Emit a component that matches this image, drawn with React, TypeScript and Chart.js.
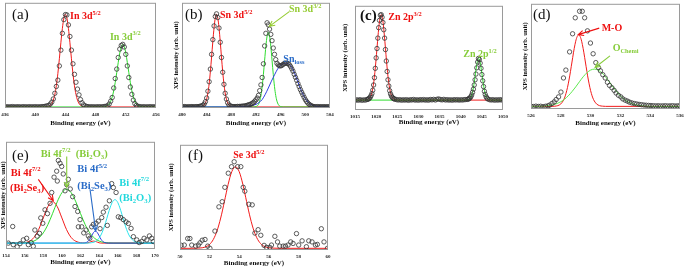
import React, { useEffect, useRef } from "react";
import { Chart, registerables } from "chart.js";

Chart.register(...registerables);

type Pt = [number, number];
const SERIF = "'Liberation Serif', 'Times New Roman', serif";

// ---------------- (a) In 3d ----------------
const aTicks = [436, 440, 444, 448, 452, 456];
const aData: Pt[] = [
  [436.0, 1.0], [436.2, 1.2], [436.4, 0.9], [436.6, 1.1], [436.8, 1.0], [437.0, 1.3], [437.2, 0.9], [437.4, 1.1], [437.6, 1.0], [437.8, 1.2],
  [438.0, 0.9], [438.2, 1.0], [438.4, 1.2], [438.6, 1.0], [438.8, 1.1], [439.0, 0.9], [439.2, 1.2], [439.4, 1.0], [439.6, 1.1], [439.8, 1.0],
  [440.0, 1.2], [440.2, 1.0], [440.4, 1.1], [440.6, 1.0], [440.8, 1.2], [441.0, 1.3], [441.2, 1.4], [441.4, 1.7], [441.6, 2.1],
  [441.8, 2.4], [442.0, 3.8], [442.2, 5.6], [442.4, 8.6], [442.6, 14], [442.8, 20.5], [443.0, 26.5], [443.2, 40], [443.4, 55], [443.6, 71],
  [443.8, 84], [444.0, 88.8], [444.2, 88.5], [444.4, 79], [444.6, 68], [444.8, 55], [445.0, 42], [445.2, 32], [445.4, 24.5], [445.6, 18],
  [445.8, 12.5], [446.0, 8], [446.2, 5], [446.4, 3], [446.6, 2], [446.8, 1.5], [447.0, 1.2],
  [447.2, 1.1], [447.4, 1.0], [447.6, 1.2], [447.8, 0.9], [448.0, 1.1], [448.2, 1.0], [448.4, 1.2], [448.6, 1.0], [448.8, 1.1], [449.0, 1.2],
  [449.2, 1.4], [449.4, 1.7], [449.6, 2.1], [449.8, 3.8], [450.0, 6.5], [450.2, 10], [450.4, 19], [450.6, 28], [450.8, 37], [451.0, 48],
  [451.2, 56], [451.4, 59.5], [451.6, 60.5], [451.8, 58], [452.0, 51], [452.2, 40], [452.4, 29], [452.6, 20], [452.8, 13], [453.0, 7.5],
  [453.2, 4.2], [453.4, 2.5], [453.6, 1.6], [453.8, 1.3], [454.0, 1.1], [454.2, 1.0], [454.4, 1.2], [454.6, 0.9], [454.8, 1.1], [455.0, 1.0],
  [455.2, 1.2], [455.4, 1.0], [455.6, 1.1], [455.8, 1.0], [456.0, 1.1],
];
const aRed: Pt[] = [
  [436, 1], [441.2, 1], [441.6, 1.2], [441.8, 1.6], [442.0, 2.5], [442.2, 4.2], [442.4, 7.5], [442.6, 12.9], [442.8, 21.2], [443.0, 32.7],
  [443.2, 46.8], [443.4, 62], [443.6, 75.7], [443.8, 85.5], [444.0, 89], [444.2, 85.5], [444.4, 75.7], [444.6, 62], [444.8, 46.8], [445.0, 32.7],
  [445.2, 21.2], [445.4, 12.9], [445.6, 7.5], [445.8, 4.2], [446.0, 2.5], [446.2, 1.6], [446.4, 1.2], [446.8, 1], [456, 1],
];
const aGreen: Pt[] = [
  [436, 1], [448.8, 1], [449.2, 1.2], [449.4, 1.6], [449.6, 2.4], [449.8, 3.9], [450.0, 6.4], [450.2, 10.5], [450.4, 16.4], [450.6, 24.3],
  [450.8, 33.7], [451.0, 43.4], [451.2, 52.2], [451.4, 58.3], [451.6, 60.5], [451.8, 58.3], [452.0, 52.2], [452.2, 43.4], [452.4, 33.7],
  [452.6, 24.3], [452.8, 16.4], [453.0, 10.5], [453.2, 6.4], [453.4, 3.9], [453.6, 2.4], [453.8, 1.6], [454.0, 1.2], [454.4, 1], [456, 1],
];

// ---------------- (b) Sn 3d ----------------
const bTicks = [480, 484, 488, 492, 496, 500, 504];
const bData: Pt[] = [
  [480.0, 1.2], [480.2, 1.0], [480.4, 1.3], [480.6, 1.1], [480.8, 0.9], [481.0, 1.2], [481.2, 1.0], [481.4, 1.1], [481.6, 1.3], [481.8, 1.0],
  [482.0, 1.2], [482.2, 1.1], [482.4, 1.3], [482.6, 1.2], [482.8, 1.5], [483.0, 1.7], [483.2, 2.0], [483.4, 2.6], [483.6, 3.8], [483.8, 6],
  [484.0, 9.5], [484.2, 16], [484.4, 25], [484.6, 37], [484.8, 51], [485.0, 65], [485.2, 78], [485.4, 87], [485.6, 89.5], [485.8, 86],
  [486.0, 76], [486.2, 62.5], [486.4, 48], [486.6, 34], [486.8, 22.5], [487.0, 14], [487.2, 8.5], [487.4, 5], [487.6, 3], [487.8, 2],
  [488.0, 1.6], [488.2, 1.3], [488.4, 1.2], [488.6, 1.4], [488.8, 1.2], [489.0, 1.5], [489.2, 1.3], [489.4, 1.6], [489.6, 1.5], [489.8, 1.8],
  [490.0, 1.7], [490.2, 2.0], [490.4, 2.2], [490.6, 2.6], [490.8, 3.0], [491.0, 3.3], [491.2, 3.8], [491.4, 4.5], [491.6, 5.3], [491.8, 6.5],
  [492.0, 7.8], [492.2, 9.5], [492.4, 12], [492.6, 16.5], [492.8, 22], [493.0, 29], [493.2, 42], [493.4, 59], [493.6, 71], [493.8, 81],
  [494.0, 79], [494.2, 75], [494.4, 70], [494.6, 64], [494.8, 57], [495.0, 51], [495.2, 46], [495.4, 42.5], [495.6, 41], [495.8, 40.2],
  [496.0, 40], [496.2, 40.5], [496.4, 41.5], [496.6, 42.3], [496.8, 42.7], [497.0, 42.6], [497.2, 42.2], [497.4, 41.2], [497.6, 39.5], [497.8, 37.3],
  [498.0, 35], [498.2, 32], [498.4, 29.2], [498.6, 26.3], [498.8, 23.2], [499.0, 20.3], [499.2, 17.5], [499.4, 15], [499.6, 12.6], [499.8, 10.2],
  [500.0, 8], [500.2, 6.2], [500.4, 4.8], [500.6, 3.6], [500.8, 2.7], [501.0, 2], [501.2, 1.6], [501.4, 1.3], [501.6, 1.2], [501.8, 1.1],
  [502.0, 1.3], [502.2, 1.0], [502.4, 1.2], [502.6, 1.1], [502.8, 1.0], [503.0, 1.2], [503.2, 1.1], [503.4, 1.0], [503.6, 1.2], [503.8, 1.1], [504.0, 1.0],
];
const bRed: Pt[] = [
  [480, 1], [482.8, 1], [483.0, 1.1], [483.2, 1.3], [483.4, 1.8], [483.6, 2.9], [483.8, 4.9], [484.0, 8.4], [484.2, 14.3], [484.4, 22.9],
  [484.6, 34.6], [484.8, 48.5], [485.0, 63.2], [485.2, 76.4], [485.4, 85.7], [485.6, 89], [485.8, 85.7], [486.0, 76.4], [486.2, 63.2],
  [486.4, 48.5], [486.6, 34.6], [486.8, 22.9], [487.0, 14.3], [487.2, 8.4], [487.4, 4.9], [487.6, 2.9], [487.8, 1.8], [488.0, 1.3],
  [488.2, 1.1], [488.6, 1], [504, 1],
];
const bGreen: Pt[] = [
  [480, 1], [491.6, 1], [491.8, 1.1], [492.0, 1.4], [492.2, 2.0], [492.4, 3.5], [492.6, 6.5], [492.8, 11.9], [493.0, 20.3], [493.2, 31.9],
  [493.4, 45.5], [493.6, 58.7], [493.8, 68.4], [494.0, 72], [494.2, 68.4], [494.4, 58.7], [494.6, 45.5], [494.8, 31.9], [495.0, 20.3],
  [495.2, 11.9], [495.4, 6.5], [495.6, 3.5], [495.8, 2.0], [496.0, 1.4], [496.2, 1.1], [496.4, 1], [504, 1],
];
const bBlue: Pt[] = [
  [480, 1], [489.0, 1.1], [490.0, 1.4], [490.5, 1.7], [491.0, 2.0], [491.5, 2.5], [492.0, 3.5], [492.5, 5.3], [493.0, 8], [493.5, 13],
  [494.0, 19], [494.5, 25.5], [495.0, 31.5], [495.5, 37], [496.0, 40.5], [496.5, 42.3], [497.0, 42.5], [497.5, 41], [498.0, 36.5],
  [498.5, 29.5], [499.0, 21.5], [499.5, 14.5], [500.0, 9], [500.5, 5.2], [501.0, 3], [501.5, 1.8], [502.0, 1.3], [502.5, 1.1], [503.0, 1.0], [504, 1],
];

// ---------------- (c) Zn 2p ----------------
const cTicks = [1015, 1020, 1025, 1030, 1035, 1040, 1045, 1050];
const cData: Pt[] = [
  [1015.0, 9.2], [1015.4, 9.8], [1015.8, 9.4], [1016.2, 9.9], [1016.6, 9.3], [1017.0, 9.7], [1017.4, 9.5], [1017.8, 10.0], [1018.0, 10.3],
  [1018.2, 10.6], [1018.4, 11.3], [1018.6, 12.2], [1018.8, 13.8], [1019.0, 15.7], [1019.2, 19], [1019.4, 24], [1019.6, 31], [1019.8, 40],
  [1020.0, 50], [1020.2, 59], [1020.4, 69], [1020.6, 79], [1020.8, 86], [1021.0, 91], [1021.2, 91.5], [1021.4, 89], [1021.6, 84],
  [1021.8, 77], [1022.0, 69], [1022.2, 58], [1022.4, 47], [1022.6, 37], [1022.8, 29], [1023.0, 23], [1023.2, 18.5], [1023.4, 15.5],
  [1023.6, 13.5], [1023.8, 12.2], [1024.0, 11.3], [1024.2, 10.8], [1024.4, 10.4], [1024.8, 10.0], [1025.2, 9.6], [1025.6, 9.9], [1026.0, 9.4],
  [1026.4, 9.8], [1026.8, 9.5], [1027.2, 9.9], [1027.6, 9.3], [1028.0, 9.8], [1028.4, 9.6], [1028.8, 10.1], [1029.2, 9.5], [1029.6, 9.8],
  [1030.0, 9.4], [1030.4, 9.9], [1030.8, 9.6], [1031.2, 10.0], [1031.6, 9.5], [1032.0, 9.8], [1032.4, 9.4], [1032.8, 10.1], [1033.2, 9.7],
  [1033.6, 10.2], [1034.0, 9.6], [1034.4, 10.3], [1034.8, 10.6], [1035.2, 10.0], [1035.6, 9.7], [1036.0, 10.2], [1036.4, 9.6], [1036.8, 9.9],
  [1037.2, 9.5], [1037.6, 9.8], [1038.0, 9.4], [1038.4, 9.9], [1038.8, 9.6], [1039.2, 9.9], [1039.6, 9.5], [1040.0, 9.8], [1040.4, 9.6],
  [1040.8, 9.9], [1041.2, 10.0], [1041.6, 10.2], [1041.8, 10.5], [1042.0, 11.0], [1042.2, 11.6], [1042.4, 12.8], [1042.6, 14.5], [1042.8, 17],
  [1043.0, 20], [1043.2, 24], [1043.4, 29], [1043.6, 34.5], [1043.8, 40.5], [1044.0, 46], [1044.2, 49.5], [1044.4, 48.5], [1044.6, 45],
  [1044.8, 40], [1045.0, 34], [1045.2, 28], [1045.4, 22.5], [1045.6, 18], [1045.8, 15], [1046.0, 12.8], [1046.2, 11.4], [1046.4, 10.6],
  [1046.8, 9.9], [1047.2, 9.6], [1047.6, 9.9], [1048.0, 9.4], [1048.4, 9.8], [1048.8, 9.5], [1049.2, 9.9], [1049.6, 9.6], [1050.0, 9.8],
];
const cRed: Pt[] = [
  [1015, 9.5], [1017.2, 9.5], [1017.7, 9.7], [1018.2, 10.4], [1018.45, 11.4], [1018.7, 13.1], [1018.95, 16], [1019.2, 20.6], [1019.45, 27.2],
  [1019.7, 36.1], [1019.95, 47], [1020.2, 59.3], [1020.45, 71.4], [1020.7, 81.9], [1020.95, 89], [1021.2, 91.5], [1021.45, 89], [1021.7, 81.9],
  [1021.95, 71.4], [1022.2, 59.3], [1022.45, 47], [1022.7, 36.1], [1022.95, 27.2], [1023.2, 20.6], [1023.45, 16], [1023.7, 13.1],
  [1023.95, 11.4], [1024.2, 10.4], [1024.7, 9.7], [1025.2, 9.5], [1050, 9.5],
];
const cGreen: Pt[] = [
  [1015, 9.5], [1041.25, 9.5], [1041.75, 9.8], [1042.0, 10.3], [1042.25, 11.3], [1042.5, 13.2], [1042.75, 16.4], [1043.0, 21.3], [1043.25, 27.8],
  [1043.5, 35.3], [1043.75, 42.4], [1044.0, 47.6], [1044.25, 49.5], [1044.5, 47.6], [1044.75, 42.4], [1045.0, 35.3], [1045.25, 27.8],
  [1045.5, 21.3], [1045.75, 16.4], [1046.0, 13.2], [1046.25, 11.3], [1046.5, 10.3], [1046.75, 9.8], [1047.25, 9.5], [1050, 9.5],
];

// ---------------- (d) O 1s ----------------
const dTicks = [526, 528, 530, 532, 534, 536];
const dData: Pt[] = [
  [526.01, 2.6], [526.17, 2.3], [526.33, 2.7], [526.49, 2.4], [526.65, 2.6], [526.81, 2.2], [526.97, 2.6], [527.13, 3.0], [527.25, 3.7],
  [527.41, 5.3], [527.56, 6.8], [527.69, 9], [527.85, 11.5], [528.01, 16.1], [528.18, 29.5], [528.34, 37], [528.59, 54.3], [528.79, 71.5],
  [528.97, 86.7], [529.26, 92.9], [529.44, 92.9], [529.6, 86.7], [529.79, 74.3], [529.99, 62.7], [530.17, 52.5], [530.35, 44.1],
  [530.53, 39.4], [530.66, 36.3], [530.82, 32.6], [530.98, 29.5], [531.13, 25.4], [531.27, 22.4], [531.43, 20.2], [531.58, 17.7],
  [531.71, 15.2], [531.87, 13], [532.03, 11.5], [532.16, 9.6], [532.32, 8.4], [532.47, 7.5], [532.61, 6.5], [532.77, 5.8], [532.93, 5.2],
  [533.09, 4.8], [533.25, 4.4], [533.41, 4.1], [533.57, 3.8], [533.73, 3.6], [533.89, 3.4], [534.05, 3.3], [534.21, 3.1], [534.37, 3.0],
  [534.53, 3.1], [534.69, 2.9], [534.85, 3.0], [535.01, 3.1], [535.17, 2.9], [535.33, 3.0], [535.49, 3.1], [535.65, 2.9], [535.81, 3.0], [535.97, 3.1],
];
const dRed: Pt[] = [
  [526, 2.5], [527.4, 2.5], [527.6, 2.7], [527.8, 3.2], [528.0, 4.8], [528.2, 8.9], [528.3, 12.5], [528.4, 17.5], [528.5, 23.9], [528.6, 31.5],
  [528.7, 40.2], [528.8, 49.1], [528.9, 57.5], [529.0, 64.4], [529.1, 68.9], [529.2, 70.5], [529.3, 68.9], [529.4, 64.4], [529.5, 57.5],
  [529.6, 49.1], [529.7, 40.2], [529.8, 31.5], [529.9, 23.9], [530.0, 17.5], [530.1, 12.5], [530.2, 8.9], [530.4, 4.8], [530.6, 3.2],
  [530.8, 2.7], [531.0, 2.5], [536, 2.5],
];
const dGreen: Pt[] = [
  [526, 2.5], [526.25, 2.5], [526.75, 2.7], [527.25, 3.35], [527.5, 4.1], [527.75, 5.2], [528.0, 6.9], [528.25, 9.3], [528.5, 12.5],
  [528.75, 16.5], [529.0, 21], [529.25, 25.9], [529.5, 30.6], [529.75, 34.4], [530.0, 37], [530.25, 37.9], [530.5, 37], [530.75, 34.4],
  [531.0, 30.6], [531.25, 25.9], [531.5, 21], [531.75, 16.5], [532.0, 12.5], [532.25, 9.3], [532.5, 6.9], [532.75, 5.2], [533.0, 4.1],
  [533.25, 3.35], [533.75, 2.7], [534.25, 2.5], [536, 2.5],
];

// ---------------- (e) Bi 4f ----------------
const eTicks = [154, 156, 158, 160, 162, 164, 166, 168, 170];
const eData: Pt[] = [
  [154.25, 5.5], [154.72, 21], [154.78, 4], [155.2, 2], [155.5, 5], [155.86, 8.5], [156.22, 10], [156.4, 4], [156.7, 6], [156.93, 2.5],
  [157.1, 17.7], [157.35, 12], [157.6, 14.6], [157.73, 29], [157.95, 24], [158.19, 36.6], [158.45, 33], [158.73, 42.6], [158.91, 52.7],
  [159.16, 67], [159.44, 72.6], [159.51, 63.4], [159.62, 82.6], [159.8, 80], [159.98, 77], [160.15, 70], [160.34, 54.3], [160.52, 60],
  [160.69, 65], [160.9, 56], [161.16, 48.8], [161.41, 39.6], [161.7, 35], [161.77, 20.7], [161.95, 27.4], [162.13, 20.7], [162.35, 15],
  [162.6, 17.7], [162.84, 12.2], [163.0, 10], [163.2, 20.7], [163.38, 23], [163.67, 24], [163.92, 26], [164.1, 19], [164.28, 29.3],
  [164.45, 34.4], [164.74, 39], [164.88, 22], [165.1, 45], [165.35, 61], [165.53, 57.3], [165.82, 52.7], [166.06, 30], [166.32, 29.3],
  [166.6, 27.4], [166.89, 25.3], [167.14, 23.8], [167.43, 19.2], [167.68, 11.5], [168.04, 8.5], [168.3, 6], [168.58, 7], [168.83, 10],
  [169.12, 8.5], [169.4, 12.2], [169.65, 10], [169.82, 7],
];
const eRed: Pt[] = [
  [154, 5.5], [155.5, 5.6], [156.0, 5.9], [156.5, 7.2], [157.0, 10.7], [157.5, 18.1], [158.0, 29], [158.5, 39.6], [159.0, 44.2], [159.5, 39.6],
  [160.0, 29], [160.5, 18.1], [161.0, 10.7], [161.5, 7.2], [162.0, 5.9], [162.5, 5.6], [162.8, 5.8], [163.1, 6.8], [163.4, 7.4], [163.7, 6.8],
  [164.0, 5.8], [164.3, 5.5], [170, 5.5],
];
const eGreen: Pt[] = [
  [154, 5.5], [155.5, 5.5], [156.0, 5.7], [156.5, 6.2], [157.0, 7.4], [157.5, 10.1], [158.0, 15], [158.5, 22.8], [159.0, 33.1], [159.5, 44],
  [160.0, 52.5], [160.5, 55.8], [161.0, 52.5], [161.5, 44], [162.0, 33.1], [162.5, 22.8], [163.0, 15], [163.5, 10.1], [164.0, 7.4],
  [164.5, 6.2], [165.0, 5.7], [165.5, 5.5], [170, 5.5],
];
const eBlue: Pt[] = [
  [154, 5.5], [162.2, 5.5], [162.4, 5.6], [162.6, 6], [162.8, 7], [163.0, 9.1], [163.2, 12.3], [163.4, 15.4], [163.6, 16.7], [163.8, 15.4],
  [164.0, 12.3], [164.2, 9.1], [164.4, 7], [164.6, 6], [164.8, 5.6], [165.0, 5.5], [170, 5.5],
];
const eCyan: Pt[] = [
  [154, 5.5], [162.7, 5.5], [163.2, 5.9], [163.45, 6.4], [163.7, 7.6], [163.95, 9.7], [164.2, 13.1], [164.45, 18.2], [164.7, 24.8],
  [164.95, 32.2], [165.2, 39.1], [165.45, 44.2], [165.7, 46], [165.95, 44.2], [166.2, 39.1], [166.45, 32.2], [166.7, 24.8], [166.95, 18.2],
  [167.2, 13.1], [167.45, 9.7], [167.7, 7.6], [167.95, 6.4], [168.2, 5.9], [168.7, 5.5], [170, 5.5],
];

// ---------------- (f) Se 3d ----------------
const fTicks = [50, 52, 54, 56, 58, 60];
const fData: Pt[] = [
  [50.08, 4.5], [50.29, 4.7], [50.52, 10.9], [50.67, 10.9], [50.79, 4.7], [51.06, 3.7], [51.24, 4.7], [51.35, 6.8], [51.5, 9.3], [51.69, 10],
  [51.87, 3.7], [52.02, 1.6], [52.36, 18], [52.63, 41], [52.85, 45.9], [53.03, 59.6], [53.26, 73], [53.48, 79.2], [53.66, 83.9],
  [53.89, 79.2], [54.11, 79.2], [54.27, 59.6], [54.38, 55.9], [54.65, 43.5], [54.88, 42.9], [55.06, 16.1], [55.28, 19.3], [55.46, 14],
  [55.68, 4.4], [55.85, 2.5], [56.07, 2.5], [56.18, 4.7], [56.41, 13], [56.59, 7.7], [56.74, 3.7], [56.97, 3.7], [57.13, 3.7], [57.3, 4.7],
  [57.48, 7.7], [57.64, 6.2], [57.87, 15.6], [58.02, 4.7], [58.25, 8.7], [58.54, 3.1], [58.7, 8.7], [58.92, 7.7], [59.15, 4.7], [59.28, 5.3],
  [59.55, 20.2], [59.73, 7.7], [59.96, 1.6],
];
const fRed: Pt[] = [
  [50, 1.6], [50.75, 1.6], [51.25, 1.8], [51.5, 2.1], [51.75, 3.1], [52.0, 5.3], [52.25, 10], [52.5, 18.1], [52.75, 30.4], [53.0, 46],
  [53.25, 62.2], [53.5, 74.5], [53.75, 79.2], [54.0, 74.5], [54.25, 62.2], [54.5, 46], [54.75, 30.4], [55.0, 18.1], [55.25, 10], [55.5, 5.3],
  [55.75, 3.1], [56.0, 2.1], [56.25, 1.8], [56.75, 1.6], [60, 1.6],
];

// ---------------- layout / styles ----------------
const Y_W = 14;
const PT = 3;
const PR = 12;
const X_H = 20;

const RED = "#f21b1b";
const RED_T = "#ee1111";
const GREEN = "#2fdc2f";
const GREEN_T = "#86cc3a";
const BLUE = "#2f3fe0";
const BLUE_T = "#2a6cc8";
const CYAN = "#28e4ec";
const CYAN_T = "#22d8dc";

interface Fit { pts: Pt[]; color: string }
interface Note { x: number; y: number; text: string; color: string; size?: number }
interface Arrow { from: Pt; to: Pt; color: string }
interface PanelCfg {
  plot: [number, number, number, number];
  xMin: number; xMax: number; ticks: number[];
  points: Pt[]; fits: Fit[];
  tag: string; tagBold?: boolean; tagOff: [number, number];
  notes: Note[]; arrows: Arrow[];
  yTitle: boolean; yPad: number; xPad: number;
}

const panels: PanelCfg[] = [
  {
    plot: [5, 1, 156, 108], xMin: 436, xMax: 456, ticks: aTicks, points: aData,
    fits: [{ pts: aGreen, color: GREEN }, { pts: aRed, color: RED }],
    tag: "(a)", tagOff: [7, 12],
    notes: [
      { x: 444.61, y: 87.9, text: "In 3d^{5/2}", color: RED_T },
      { x: 449.9, y: 68.2, text: "In 3d^{3/2}", color: GREEN_T },
    ],
    arrows: [], yTitle: false, yPad: 0, xPad: 1,
  },
  {
    plot: [182, 1, 330, 108], xMin: 480, xMax: 504, ticks: bTicks, points: bData,
    fits: [{ pts: bBlue, color: BLUE }, { pts: bGreen, color: GREEN }, { pts: bRed, color: RED }],
    tag: "(b)", tagOff: [3, 12],
    notes: [
      { x: 486.16, y: 89, text: "Sn 3d^{5/2}", color: RED_T },
      { x: 497.35, y: 94.1, text: "Sn 3d^{3/2}", color: "#96cc34" },
      { x: 496.43, y: 47.4, text: "Sn_{loss}", color: BLUE_T },
    ],
    arrows: [{ from: [497.4, 91.6], to: [494.16, 77.6], color: "#96cc34" }],
    yTitle: true, yPad: 4, xPad: 1,
  },
  {
    plot: [355, 4, 503, 110], xMin: 1015, xMax: 1050, ticks: cTicks, points: cData,
    fits: [{ pts: cGreen, color: GREEN }, { pts: cRed, color: RED }],
    tag: "(c)", tagBold: true, tagOff: [5, 10],
    notes: [
      { x: 1022.87, y: 89.6, text: "Zn 2p^{3/2}", color: RED_T },
      { x: 1040.6, y: 54, text: "Zn 2p^{1/2}", color: GREEN_T },
    ],
    arrows: [], yTitle: true, yPad: 0.2, xPad: 3.5,
  },
  {
    plot: [531, 2, 680, 109], xMin: 526, xMax: 536, ticks: dTicks, points: dData,
    fits: [{ pts: dGreen, color: "#5ee84e" }, { pts: dRed, color: RED }],
    tag: "(d)", tagOff: [2, 11],
    notes: [
      { x: 530.74, y: 77.6, text: "M-O", color: RED_T },
      { x: 531.48, y: 58.2, text: "O_{Chemi}", color: GREEN_T },
    ],
    arrows: [
      { from: [530.58, 76.9], to: [529.17, 70.7], color: RED_T },
      { from: [531.3, 50.5], to: [530.3, 39.5], color: GREEN_T },
    ],
    yTitle: true, yPad: 4, xPad: 2,
  },
  {
    plot: [6, 140, 155, 249], xMin: 154, xMax: 170, ticks: eTicks, points: eData,
    fits: [
      { pts: eCyan, color: CYAN }, { pts: eBlue, color: BLUE },
      { pts: eGreen, color: GREEN }, { pts: eRed, color: RED },
    ],
    tag: "(e)", tagOff: [6, 14],
    notes: [
      { x: 157.73, y: 89.3, text: "Bi 4f^{7/2}  (Bi_{2}O_{3})", color: GREEN_T, size: 10.5 },
      { x: 154.5, y: 71.6, text: "Bi 4f^{7/2}", color: RED_T, size: 10.5 },
      { x: 154.43, y: 57.2, text: "(Bi_{2}Se_{3})", color: RED_T, size: 10.5 },
      { x: 161.66, y: 75, text: "Bi 4f^{5/2}", color: BLUE_T, size: 10.5 },
      { x: 161.66, y: 59.6, text: "(Bi_{2}Se_{3})", color: BLUE_T, size: 10.5 },
      { x: 166.17, y: 62.4, text: "Bi 4f^{7/2}", color: CYAN_T, size: 10.5 },
      { x: 166.17, y: 48, text: "(Bi_{2}O_{3})", color: CYAN_T, size: 10.5 },
    ],
    arrows: [
      { from: [160.52, 86.2], to: [160.52, 57.5], color: GREEN_T },
      { from: [157.47, 64.9], to: [159.08, 45], color: RED_T },
      { from: [163.02, 55.8], to: [163.63, 16.8], color: BLUE_T },
    ],
    yTitle: true, yPad: 7.6, xPad: 2.8,
  },
  {
    plot: [180, 143, 328, 250], xMin: 50, xMax: 60, ticks: fTicks, points: fData,
    fits: [{ pts: fRed, color: RED }],
    tag: "(f)", tagOff: [8, 11],
    notes: [{ x: 53.6, y: 90.9, text: "Se 3d^{5/2}", color: RED_T }],
    arrows: [], yTitle: true, yPad: 1.8, xPad: 2.5,
  },
];

// ---------------- drawing helpers ----------------
type Part = { t: string; k: "n" | "sup" | "sub" };
function parseRich(s: string): Part[] {
  const out: Part[] = [];
  const re = /(\^\{[^}]*\}|_\{[^}]*\})/g;
  let last = 0;
  let m: RegExpExecArray | null;
  while ((m = re.exec(s))) {
    if (m.index > last) out.push({ t: s.slice(last, m.index), k: "n" });
    const tok = m[0];
    out.push({ t: tok.slice(2, -1), k: tok[0] === "^" ? "sup" : "sub" });
    last = m.index + tok.length;
  }
  if (last < s.length) out.push({ t: s.slice(last), k: "n" });
  return out;
}

function drawRich(ctx: CanvasRenderingContext2D, text: string, x: number, y: number, color: string, size: number) {
  const parts = parseRich(text);
  ctx.save();
  ctx.fillStyle = color;
  ctx.textBaseline = "alphabetic";
  ctx.textAlign = "left";
  const base = y + size * 0.34;
  let cx = x;
  for (const p of parts) {
    const fs = p.k === "n" ? size : size * 0.64;
    ctx.font = `bold ${fs}px ${SERIF}`;
    const dy = p.k === "sup" ? -size * 0.42 : p.k === "sub" ? size * 0.2 : 0;
    ctx.fillText(p.t, cx, base + dy);
    cx += ctx.measureText(p.t).width;
  }
  ctx.restore();
}

function drawArrow(ctx: CanvasRenderingContext2D, x1: number, y1: number, x2: number, y2: number, color: string) {
  const ang = Math.atan2(y2 - y1, x2 - x1);
  const L = 6;
  const A = 0.45;
  ctx.save();
  ctx.strokeStyle = color;
  ctx.lineWidth = 1.1;
  ctx.beginPath();
  ctx.moveTo(x1, y1);
  ctx.lineTo(x2, y2);
  ctx.moveTo(x2 - L * Math.cos(ang - A), y2 - L * Math.sin(ang - A));
  ctx.lineTo(x2, y2);
  ctx.lineTo(x2 - L * Math.cos(ang + A), y2 - L * Math.sin(ang + A));
  ctx.stroke();
  ctx.restore();
}

function Panel({ cfg }: { cfg: PanelCfg }) {
  const ref = useRef<HTMLCanvasElement>(null);
  const [l, t, r, b] = cfg.plot;
  const cl = l - Y_W;
  const ct = t - PT;
  const cw = r - l + Y_W + PR;
  const ch = b - t + PT + X_H;

  useEffect(() => {
    const overlay = {
      id: "overlay",
      afterDraw(chart: any) {
        const { ctx, chartArea: ca, scales } = chart;
        const xs = scales.x;
        const ys = scales.y;
        ctx.save();
        ctx.strokeStyle = "#9a9a9a";
        ctx.lineWidth = 1;
        ctx.strokeRect(ca.left + 0.5, ca.top + 0.5, ca.right - ca.left - 1, ca.bottom - ca.top - 1);
        ctx.fillStyle = "#111";
        ctx.font = `${cfg.tagBold ? "bold " : ""}15px ${SERIF}`;
        ctx.textBaseline = "middle";
        ctx.textAlign = "left";
        ctx.fillText(cfg.tag, ca.left + cfg.tagOff[0], ca.top + cfg.tagOff[1]);
        for (const a of cfg.arrows) {
          drawArrow(ctx, xs.getPixelForValue(a.from[0]), ys.getPixelForValue(a.from[1]),
            xs.getPixelForValue(a.to[0]), ys.getPixelForValue(a.to[1]), a.color);
        }
        for (const n of cfg.notes) {
          drawRich(ctx, n.text, xs.getPixelForValue(n.x), ys.getPixelForValue(n.y), n.color, n.size ?? 10);
        }
        ctx.restore();
      },
    };

    const datasets: any[] = [
      {
        data: cfg.points.map(([x, y]) => ({ x, y })),
        showLine: false,
        pointStyle: "circle",
        pointRadius: 2.2,
        pointBorderWidth: 0.8,
        borderColor: "#333",
        backgroundColor: "rgba(0,0,0,0)",
        pointBackgroundColor: "rgba(0,0,0,0)",
        pointBorderColor: "#333",
      },
      ...cfg.fits.map((f) => ({
        data: f.pts.map(([x, y]) => ({ x, y })),
        showLine: true,
        pointRadius: 0,
        borderColor: f.color,
        borderWidth: 1,
        cubicInterpolationMode: "monotone",
        fill: false,
      })),
    ];

    const chart = new Chart(ref.current!, {
      type: "scatter",
      data: { datasets },
      options: {
        animation: false,
        responsive: false,
        maintainAspectRatio: false,
        events: [],
        layout: { padding: { left: 0, top: PT, right: PR, bottom: 0 } },
        plugins: { legend: { display: false }, tooltip: { enabled: false } },
        scales: {
          x: {
            type: "linear",
            min: cfg.xMin,
            max: cfg.xMax,
            afterBuildTicks: (scale: any) => {
              scale.ticks = cfg.ticks.map((v) => ({ value: v }));
            },
            afterFit: (scale: any) => {
              scale.height = X_H;
            },
            grid: { display: false, drawTicks: false },
            border: { display: false },
            ticks: {
              autoSkip: false,
              maxRotation: 0,
              padding: 4,
              color: "#222",
              font: { family: SERIF, size: 5, weight: "bold" },
              callback: (v: any) => String(v),
            },
            title: {
              display: true,
              text: "Binding energy (eV)",
              color: "#111",
              font: { family: SERIF, size: 7, weight: "bold" },
              padding: { top: 0, bottom: cfg.xPad },
            },
          },
          y: {
            type: "linear",
            min: 0,
            max: 100,
            afterFit: (scale: any) => {
              scale.width = Y_W;
            },
            grid: { display: false, drawTicks: false },
            border: { display: false },
            ticks: { display: false },
            title: {
              display: cfg.yTitle,
              text: "XPS intensity (arb. unit)",
              color: "#111",
              font: { family: SERIF, size: 6.5, weight: "bold" },
              padding: { top: cfg.yPad, bottom: 0 },
            },
          },
        },
      } as any,
      plugins: [overlay],
    });
    return () => chart.destroy();
  }, [cfg]);

  return (
    <canvas
      ref={ref}
      width={cw}
      height={ch}
      style={{ position: "absolute", left: cl, top: ct, width: cw, height: ch }}
    />
  );
}

export default function App() {
  return (
    <div
      style={{
        position: "fixed",
        left: 0,
        top: 0,
        width: 685,
        height: 267,
        background: "#fff",
        overflow: "hidden",
      }}
    >
      {panels.map((p) => (
        <Panel key={p.tag} cfg={p} />
      ))}
    </div>
  );
}
